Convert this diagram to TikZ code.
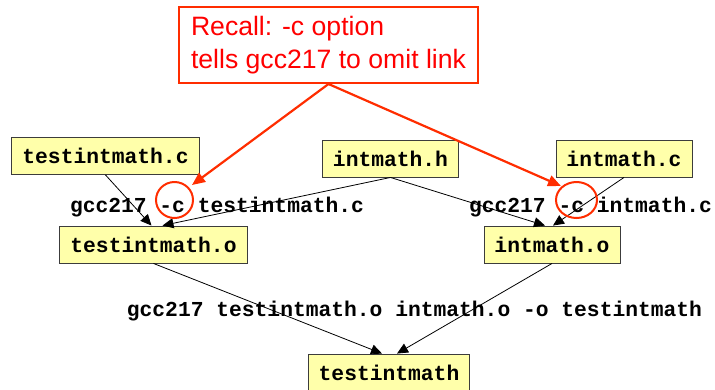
\documentclass[tikz,border=0pt]{standalone}
\usepackage{fontspec}
\setmainfont{Liberation Sans}
\newfontfamily\codefont{Liberation Mono}
\usetikzlibrary{arrows.meta}
\definecolor{boxfill}{RGB}{255,255,170}
\definecolor{boxline}{RGB}{60,60,60}
\definecolor{callred}{RGB}{255,45,0}
\definecolor{textred}{RGB}{255,0,0}
\tikzset{
  file/.style={draw=boxline, line width=0.9pt, fill=boxfill, minimum height=37pt,
    inner xsep=10.5pt, inner ysep=0pt, font=\codefont\fontsize{21.3}{24}\selectfont\bfseries},
  cmd/.style={anchor=base, inner sep=0pt, font=\codefont\fontsize{21.3}{24}\selectfont\bfseries},
  dep/.style={line width=0.8pt, -{Triangle[length=11pt,width=10pt]}},
  callout/.style={draw=callred, line width=2pt, text=textred, align=left,
    minimum width=299pt, minimum height=76pt, inner sep=0pt,
    font=\fontsize{26.6}{33}\selectfont},
  callarrow/.style={draw=callred, line width=2.2pt, -{Triangle[length=13pt,width=11pt]}},
  ring/.style={draw=callred, line width=2pt}
}
\begin{document}
\begin{tikzpicture}[x=1pt,y=-1pt]
\useasboundingbox (0,0) rectangle (715,389);
% file nodes
\node[file] (tc) at (105.5,156) {testintmath.c};
\node[file] (ih) at (390.5,158.5) {intmath.h};
\node[file] (ic) at (624,158.5) {intmath.c};
\node[file] (to) at (153.5,244.5) {testintmath.o};
\node[file] (io) at (552,244.5) {intmath.o};
\node[file] (t) at (389,372.5) {testintmath};
% command labels
\node[cmd] (l1) at (217,212) {gcc217 -c testintmath.c};
\node[cmd] (l2) at (590.5,212) {gcc217 -c intmath.c};
\node[cmd] (l3) at (414.5,316.5) {gcc217 testintmath.o intmath.o -o testintmath};
% dependency edges
\draw[dep] (tc.south) -- ([xshift=-2pt]to.north);
\draw[dep] (ih.south) -- ([xshift=9pt]to.north);
\draw[dep] (ih.south) -- ([xshift=-7pt]io.north);
\draw[dep] (ic.south) -- ([xshift=1pt]io.north);
\draw[dep] (to.south) -- ([xshift=-7pt]t.north);
\draw[dep] (io.south) -- ([xshift=8pt]t.north);
% callout
\node[callout] (rc) at (328.5,45) {Recall: -c option\\tells gcc217 to omit link};
\draw[ring] (174.5,200) ellipse [x radius=18.5, y radius=18];
\draw[ring] (576.5,200) ellipse [x radius=20.5, y radius=18];
\coordinate (cl) at (192,185);
\coordinate (cr) at (561,186);
\draw[callarrow] (rc.south) -- (cl);
\draw[callarrow] (rc.south) -- (cr);
\end{tikzpicture}
\end{document}
